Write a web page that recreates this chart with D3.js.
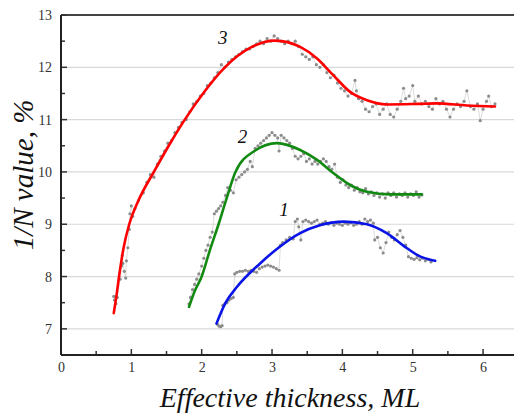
<!DOCTYPE html>
<html lang="en">
<head>
  <meta charset="UTF-8">
  <title>1/N value vs effective thickness</title>
  <style>
    body { margin: 0; background: white; }
  </style>
</head>
<body>
  <svg id="svg" width="514" height="414"></svg>
  <script src="https://d3js.org/d3.v7.min.js"></script>
  <script>
    // x ticks / y ticks
    const xTicks = [0, 1, 2, 3, 4, 5, 6]
    const yTicks = [7, 8, 9, 10, 11, 12, 13]
    const gridValues = [7, 8, 9, 10, 11, 12]

    // fitted curves
    const fit3 = [[0.75,7.3],[0.79,7.65],[0.825,8.0],[0.89,8.55],[0.97,9.0],[1.1,9.45],[1.32,10.0],[1.54,10.52],[1.76,11.0],[2.03,11.52],[2.33,12.0],[2.7,12.38],[3.04,12.51],[3.4,12.39],[3.64,12.17],[3.87,11.85],[4.11,11.53],[4.35,11.37],[4.63,11.29],[5.06,11.30],[5.34,11.31],[5.77,11.27],[6.17,11.25]]
    const fit2 = [[1.82,7.42],[1.9,7.72],[2.0,8.0],[2.12,8.52],[2.24,9.0],[2.36,9.52],[2.48,10.0],[2.75,10.4],[3.07,10.55],[3.4,10.42],[3.64,10.23],[3.87,9.98],[4.11,9.75],[4.35,9.62],[4.68,9.57],[5.13,9.57]]
    const fit1 = [[2.21,7.1],[2.34,7.5],[2.5,7.8],[2.83,8.25],[3.11,8.57],[3.4,8.83],[3.68,8.98],[4.02,9.05],[4.35,9.0],[4.63,8.83],[4.92,8.54],[5.11,8.38],[5.25,8.32],[5.32,8.3]]

    // measured points (gray)
    const raw3 = [[0.75,7.62],[0.76,7.55],[0.78,7.48],[0.8,7.6],[0.84,7.95],[0.86,8.2],[0.87,8.4],[0.88,8.25],[0.9,8.1],[0.92,7.97],[0.93,8.3],[0.95,8.55],[0.97,8.9],[0.98,9.2],[1.0,9.35],[1.02,9.15],[1.05,9.3],[1.1,9.45],[1.17,9.6],[1.22,9.8],[1.27,9.95],[1.32,9.9],[1.37,10.15],[1.42,10.3],[1.47,10.4],[1.52,10.55],[1.57,10.6],[1.62,10.75],[1.67,10.85],[1.72,10.95],[1.78,11.0],[1.83,11.15],[1.88,11.3],[1.93,11.35],[1.98,11.45],[2.03,11.5],[2.08,11.65],[2.13,11.7],[2.18,11.8],[2.23,11.9],[2.28,12.05],[2.33,12.0],[2.38,12.1],[2.43,12.15],[2.48,12.2],[2.53,12.25],[2.58,12.3],[2.63,12.35],[2.68,12.35],[2.73,12.4],[2.78,12.45],[2.83,12.5],[2.88,12.45],[2.93,12.55],[2.98,12.5],[3.03,12.6],[3.08,12.55],[3.13,12.5],[3.18,12.45],[3.23,12.5],[3.28,12.45],[3.33,12.5],[3.38,12.4],[3.43,12.25],[3.48,12.2],[3.53,12.15],[3.58,12.2],[3.63,12.05],[3.68,12.0],[3.73,12.05],[3.78,11.9],[3.83,11.8],[3.88,11.85],[3.93,11.7],[3.98,11.6],[4.03,11.55],[4.08,11.45],[4.13,11.5],[4.18,11.75],[4.2,11.55],[4.23,11.4],[4.28,11.35],[4.33,11.2],[4.38,11.15],[4.43,11.25],[4.48,11.3],[4.53,11.1],[4.58,11.2],[4.63,11.3],[4.68,11.1],[4.73,11.05],[4.78,11.2],[4.83,11.35],[4.87,11.6],[4.9,11.4],[4.95,11.45],[5.0,11.65],[5.03,11.35],[5.08,11.45],[5.13,11.3],[5.18,11.35],[5.23,11.25],[5.28,11.2],[5.33,11.4],[5.38,11.3],[5.43,11.35],[5.48,11.2],[5.53,11.05],[5.58,11.2],[5.63,11.3],[5.68,11.25],[5.73,11.35],[5.77,11.55],[5.82,11.25],[5.87,11.2],[5.92,11.3],[5.96,10.98],[6.0,11.2],[6.05,11.35],[6.08,11.45],[6.12,11.25],[6.17,11.3]]
    const raw2 = [[1.82,7.48],[1.84,7.6],[1.87,7.75],[1.9,7.85],[1.93,7.95],[1.96,8.05],[2.0,8.2],[2.03,8.35],[2.06,8.5],[2.09,8.6],[2.12,8.75],[2.15,8.85],[2.18,9.2],[2.21,9.25],[2.24,9.3],[2.27,9.35],[2.3,9.42],[2.34,9.55],[2.37,9.7],[2.41,9.65],[2.45,9.6],[2.49,9.85],[2.53,9.9],[2.57,9.95],[2.61,10.0],[2.65,10.05],[2.69,10.2],[2.72,10.1],[2.76,10.45],[2.8,10.5],[2.84,10.55],[2.88,10.6],[2.92,10.65],[2.96,10.7],[3.0,10.75],[3.04,10.7],[3.08,10.65],[3.1,10.4],[3.13,10.7],[3.17,10.65],[3.21,10.6],[3.25,10.55],[3.29,10.45],[3.33,10.3],[3.37,10.25],[3.41,10.3],[3.45,10.35],[3.49,10.2],[3.53,10.25],[3.57,10.15],[3.61,10.2],[3.65,10.15],[3.69,10.2],[3.73,10.25],[3.77,10.2],[3.81,10.1],[3.85,10.05],[3.89,10.15],[3.93,9.9],[3.97,9.8],[4.01,9.85],[4.05,9.75],[4.09,9.7],[4.13,9.75],[4.17,9.65],[4.21,9.7],[4.25,9.62],[4.29,9.6],[4.33,9.68],[4.37,9.58],[4.41,9.62],[4.45,9.55],[4.49,9.6],[4.53,9.52],[4.57,9.58],[4.61,9.5],[4.65,9.6],[4.69,9.55],[4.73,9.6],[4.77,9.52],[4.81,9.58],[4.85,9.55],[4.89,9.6],[4.93,9.52],[4.97,9.58],[5.01,9.55],[5.05,9.62],[5.09,9.52],[5.13,9.56]]
    const raw1 = [[2.23,7.08],[2.25,7.05],[2.27,7.04],[2.29,7.06],[2.3,7.45],[2.33,7.48],[2.36,7.5],[2.39,7.55],[2.42,7.58],[2.45,7.6],[2.47,8.05],[2.5,8.08],[2.54,8.1],[2.58,8.1],[2.62,8.12],[2.66,8.1],[2.7,8.12],[2.74,8.1],[2.78,8.08],[2.82,8.15],[2.86,8.18],[2.9,8.2],[2.94,8.22],[2.98,8.2],[3.02,8.18],[3.06,8.15],[3.1,8.12],[3.12,8.6],[3.15,8.65],[3.2,8.7],[3.25,8.75],[3.3,8.72],[3.33,9.05],[3.36,9.1],[3.38,8.95],[3.41,8.7],[3.44,9.05],[3.48,9.08],[3.52,9.05],[3.56,9.02],[3.6,9.05],[3.64,9.08],[3.68,9.0],[3.72,9.02],[3.76,9.05],[3.8,9.0],[3.84,9.03],[3.88,8.98],[3.92,9.02],[3.96,9.0],[4.0,8.98],[4.04,9.02],[4.08,9.0],[4.12,9.03],[4.16,8.98],[4.2,9.0],[4.24,9.05],[4.28,9.0],[4.32,9.1],[4.36,9.05],[4.4,9.08],[4.44,9.02],[4.46,8.7],[4.5,8.75],[4.54,8.55],[4.58,8.45],[4.62,8.65],[4.66,8.85],[4.7,8.75],[4.74,8.7],[4.78,8.8],[4.82,8.88],[4.86,8.75],[4.9,8.6],[4.94,8.38],[4.98,8.35],[5.02,8.33],[5.06,8.36],[5.1,8.32],[5.14,8.35],[5.18,8.3],[5.22,8.33],[5.26,8.28]]

    const curveLabels = ['3', '2', '1']
    const labelPos = [[2.3, 12.45], [2.58, 10.55], [3.17, 9.15]]
    const colors = ['#ff0000', '#128a12', '#0a14e6']

    const mLeft = 61, mRight = 514, mTop = 15, mBottom = 355
    const xScale = d3.scaleLinear().domain([0, 6.44]).range([mLeft, mRight])
    const yScale = d3.scaleLinear().domain([6.5, 13]).range([mBottom, mTop])

    const svg = d3.select('#svg')
    const serif = '"Liberation Serif", "Times New Roman", serif'

    // grid
    svg.append('g')
      .selectAll('line')
      .data(gridValues)
      .enter()
      .append('line')
      .attr('x1', mLeft).attr('x2', mRight)
      .attr('y1', d => yScale(d)).attr('y2', d => yScale(d))
      .attr('stroke', '#d9d9d9')
      .attr('stroke-width', 1.2)

    // top border
    svg.append('line')
      .attr('x1', mLeft).attr('x2', mRight)
      .attr('y1', mTop).attr('y2', mTop)
      .attr('stroke', '#444').attr('stroke-width', 2)

    // raw data: thin gray connecting line + dots
    const rawLine = d3.line().x(d => xScale(d[0])).y(d => yScale(d[1]))
    const raws = [raw3, raw2, raw1]
    raws.forEach(r => {
      svg.append('path')
        .attr('d', rawLine(r))
        .attr('fill', 'none')
        .attr('stroke', '#cccccc')
        .attr('stroke-width', 0.7)
      svg.append('g')
        .selectAll('circle')
        .data(r)
        .enter()
        .append('circle')
        .attr('cx', d => xScale(d[0]))
        .attr('cy', d => yScale(d[1]))
        .attr('r', 1.6)
        .attr('fill', '#8c8c8c')
    })

    // fitted curves
    const fitLine = d3.line()
      .x(d => xScale(d[0])).y(d => yScale(d[1]))
      .curve(d3.curveMonotoneX)
    const fits = [fit3, fit2, fit1]
    fits.forEach((f, i) => {
      svg.append('path')
        .attr('d', fitLine(f))
        .attr('fill', 'none')
        .attr('stroke', colors[i])
        .attr('stroke-width', 2.6)
        .attr('stroke-linecap', 'round')
    })

    // curve numbers
    svg.append('g')
      .selectAll('text')
      .data(curveLabels)
      .enter()
      .append('text')
      .text(d => d)
      .attr('x', (d, i) => xScale(labelPos[i][0]))
      .attr('y', (d, i) => yScale(labelPos[i][1]))
      .attr('text-anchor', 'middle')
      .style('font-family', serif)
      .style('font-style', 'italic')
      .style('font-size', '19px')
      .attr('fill', '#111')

    // axes with inward ticks
    const bottomAxis = d3.axisBottom(xScale).tickValues(xTicks).tickFormat(d3.format('d')).tickSize(0).tickPadding(7)
    const leftAxis = d3.axisLeft(yScale).tickValues(yTicks).tickFormat(d3.format('d')).tickSize(0).tickPadding(9)
    const gx = svg.append('g').attr('transform', `translate(0, ${mBottom})`).call(bottomAxis)
    const gy = svg.append('g').attr('transform', `translate(${mLeft}, 0)`).call(leftAxis)
    ;[gx, gy].forEach(g => {
      g.select('.domain').remove()
      g.selectAll('text')
        .style('font-family', serif)
        .style('font-size', '14px')
        .attr('fill', '#333')
    })

    const xMinor = d3.range(0.5, 6.5, 1)
    const yMinor = d3.range(7.5, 13, 1)
    svg.append('g').selectAll('line').data(xTicks).enter().append('line')
      .attr('x1', d => xScale(d)).attr('x2', d => xScale(d))
      .attr('y1', mBottom).attr('y2', mBottom - 6)
      .attr('stroke', '#333').attr('stroke-width', 1.5)
    svg.append('g').selectAll('line').data(xMinor).enter().append('line')
      .attr('x1', d => xScale(d)).attr('x2', d => xScale(d))
      .attr('y1', mBottom).attr('y2', mBottom - 4)
      .attr('stroke', '#333').attr('stroke-width', 1.5)
    svg.append('g').selectAll('line').data(yTicks).enter().append('line')
      .attr('x1', mLeft).attr('x2', mLeft + 6)
      .attr('y1', d => yScale(d)).attr('y2', d => yScale(d))
      .attr('stroke', '#333').attr('stroke-width', 1.5)
    svg.append('g').selectAll('line').data(yMinor).enter().append('line')
      .attr('x1', mLeft).attr('x2', mLeft + 4)
      .attr('y1', d => yScale(d)).attr('y2', d => yScale(d))
      .attr('stroke', '#333').attr('stroke-width', 1.5)

    // axis lines
    svg.append('line')
      .attr('x1', mLeft).attr('x2', mRight)
      .attr('y1', mBottom).attr('y2', mBottom)
      .attr('stroke', '#222').attr('stroke-width', 2)
    svg.append('line')
      .attr('x1', mLeft).attr('x2', mLeft)
      .attr('y1', mTop).attr('y2', mBottom)
      .attr('stroke', '#222').attr('stroke-width', 2)

    // axis titles
    svg.append('text')
      .text('Effective thickness, ML')
      .attr('x', 290)
      .attr('y', 407)
      .attr('text-anchor', 'middle')
      .style('font-family', serif)
      .style('font-style', 'italic')
      .style('font-size', '28px')
      .attr('fill', '#111')
    svg.append('text')
      .text('1/N value, %')
      .attr('transform', `translate(33, 175) rotate(-90)`)
      .attr('text-anchor', 'middle')
      .style('font-family', serif)
      .style('font-style', 'italic')
      .style('font-size', '29px')
      .attr('fill', '#111')
  </script>
</body>
</html>
